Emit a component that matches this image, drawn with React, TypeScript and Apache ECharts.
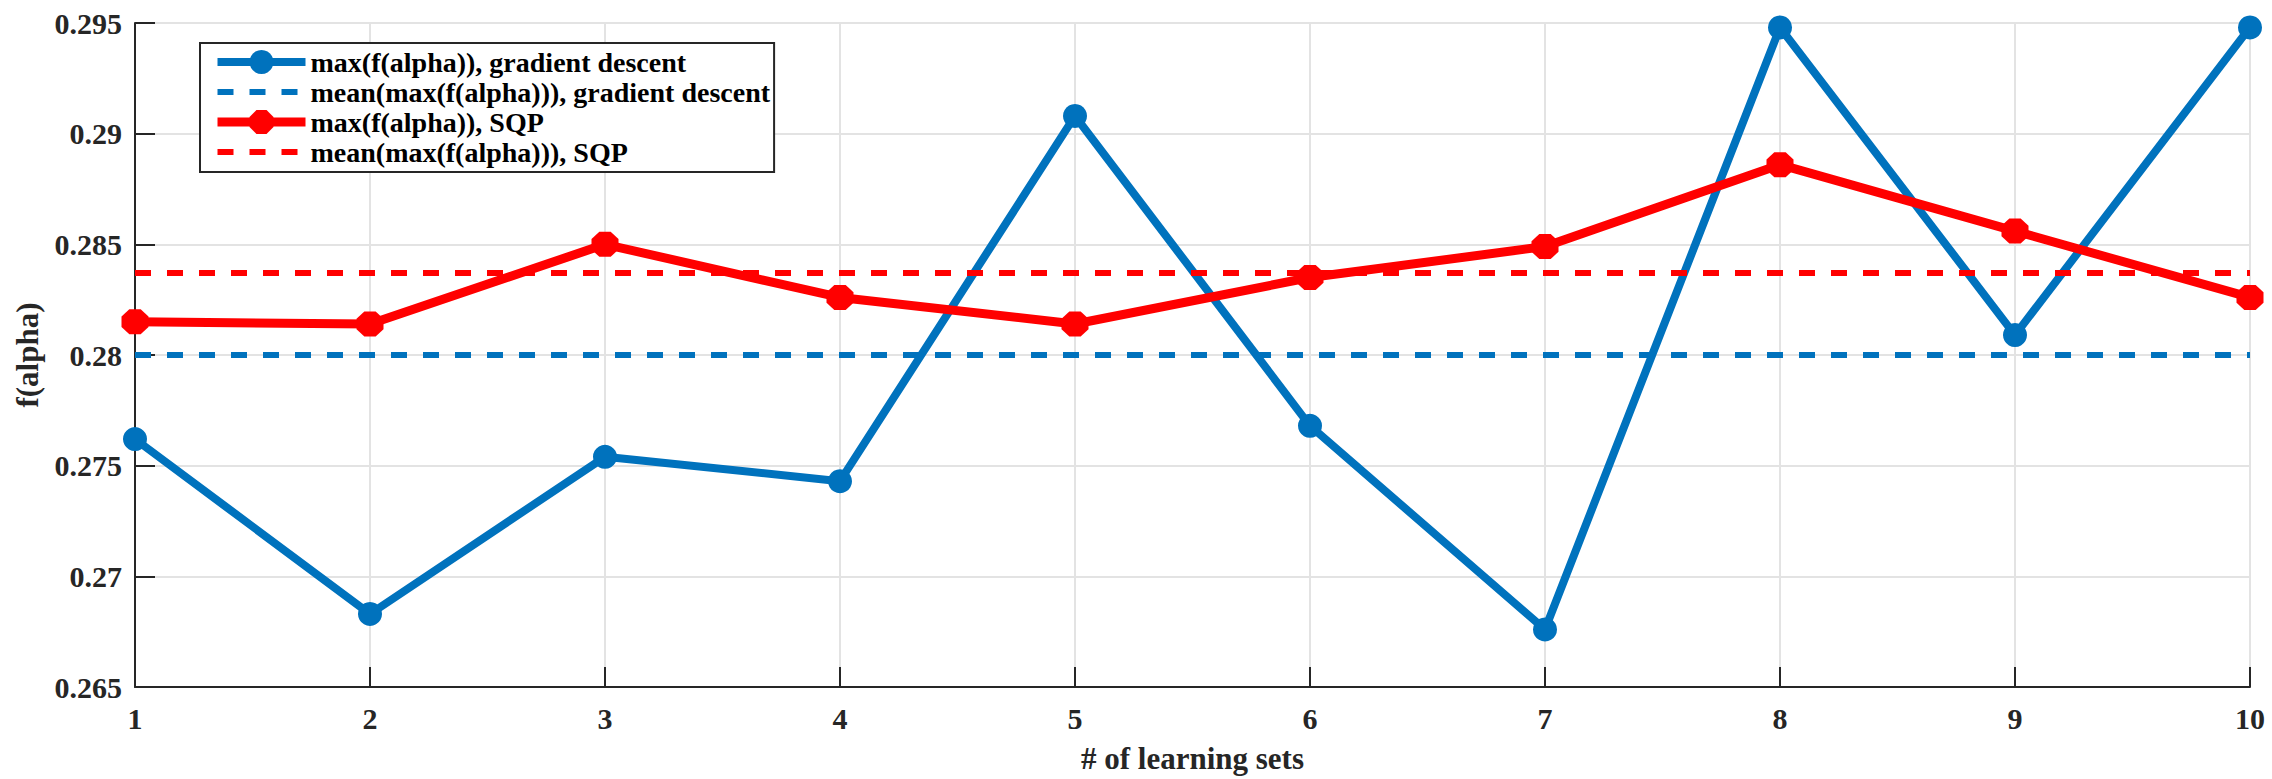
import React, { useEffect, useRef } from "react";
import * as echarts from "echarts";

const learningSets = [1, 2, 3, 4, 5, 6, 7, 8, 9, 10];
const gradientDescent = [0.2762, 0.2683, 0.2754, 0.2743, 0.2908, 0.2768, 0.2676, 0.2948, 0.2809, 0.2948];
const sqp = [0.2815, 0.2814, 0.2850, 0.2826, 0.2814, 0.2835, 0.2849, 0.2886, 0.2856, 0.2826];
const meanGradientDescent = 0.2800;
const meanSqp = 0.2837;
const seriesNames = [
  "max(f(alpha)), gradient descent",
  "mean(max(f(alpha))), gradient descent",
  "max(f(alpha)), SQP",
  "mean(max(f(alpha))), SQP",
];
const xTitle = "# of learning sets";
const yTitle = "f(alpha)";

const BLUE = "#0072BD";
const RED = "#FF0000";
const AXIS = "#262626";
const FONT = "Liberation Serif";
const OCTAGON = "path://M-0.42,-1 L0.42,-1 L1,-0.42 L1,0.42 L0.42,1 L-0.42,1 L-1,0.42 L-1,-0.42 Z";
const NONE_COLOR = "rgba(0,0,0,0)";

export default function App() {
  const ref = useRef<HTMLDivElement>(null);
  useEffect(() => {
    if (!ref.current) return;
    const chart = echarts.init(ref.current, undefined, { renderer: "svg" });
    const first = learningSets[0];
    const last = learningSets[learningSets.length - 1];
    chart.setOption({
      animation: false,
      backgroundColor: "#ffffff",
      grid: { left: 135, right: 22, top: 23, bottom: 86, containLabel: false },
      legend: {
        orient: "vertical",
        left: 200,
        top: 43,
        itemWidth: 88,
        itemHeight: 30,
        itemGap: 2,
        padding: [5, 4, 6, 13],
        borderColor: AXIS,
        borderWidth: 2,
        backgroundColor: "#ffffff",
        lineStyle: { width: "inherit" },
        textStyle: { fontFamily: FONT, fontWeight: "bold", fontSize: 28, color: "#000" },
        data: seriesNames,
      },
      xAxis: {
        type: "value",
        min: 1,
        max: 10,
        interval: 1,
        name: xTitle,
        nameLocation: "middle",
        nameGap: 56,
        nameTextStyle: { fontFamily: FONT, fontWeight: "bold", fontSize: 31, color: AXIS },
        axisLine: { show: true, lineStyle: { color: AXIS, width: 2 } },
        axisTick: { show: true, inside: true, length: 20, lineStyle: { color: AXIS, width: 2 } },
        axisLabel: { fontFamily: FONT, fontWeight: "bold", fontSize: 30, color: AXIS, margin: 16 },
        splitLine: { show: true, lineStyle: { color: "#E3E3E3", width: 2 } },
      },
      yAxis: {
        type: "value",
        min: 0.265,
        max: 0.295,
        interval: 0.005,
        name: yTitle,
        nameLocation: "middle",
        nameGap: 92,
        nameTextStyle: { fontFamily: FONT, fontWeight: "bold", fontSize: 31, color: AXIS },
        axisLine: { show: true, lineStyle: { color: AXIS, width: 2 } },
        axisTick: { show: true, inside: true, length: 20, lineStyle: { color: AXIS, width: 2 } },
        axisLabel: { fontFamily: FONT, fontWeight: "bold", fontSize: 30, color: AXIS, margin: 13 },
        splitLine: { show: true, lineStyle: { color: "#E3E3E3", width: 2 } },
      },
      series: [
        {
          name: seriesNames[0],
          type: "line",
          data: learningSets.map((x, i) => [x, gradientDescent[i]]),
          symbol: "circle",
          symbolSize: 24,
          lineStyle: { color: BLUE, width: 8 },
          itemStyle: { color: BLUE },
          z: 2,
        },
        {
          name: seriesNames[1],
          type: "line",
          data: [[first, meanGradientDescent], [last, meanGradientDescent]],
          symbol: "none",
          lineStyle: { color: BLUE, width: 6, type: [16, 16] },
          itemStyle: { color: NONE_COLOR },
          z: 3,
        },
        {
          name: seriesNames[2],
          type: "line",
          data: learningSets.map((x, i) => [x, sqp[i]]),
          symbol: OCTAGON,
          symbolSize: [27, 25],
          lineStyle: { color: RED, width: 9 },
          itemStyle: { color: RED },
          z: 4,
        },
        {
          name: seriesNames[3],
          type: "line",
          data: [[first, meanSqp], [last, meanSqp]],
          symbol: "none",
          lineStyle: { color: RED, width: 6, type: [16, 16] },
          itemStyle: { color: NONE_COLOR },
          z: 5,
        },
      ],
    });
    return () => chart.dispose();
  }, []);
  return (
    <div
      ref={ref}
      style={{ position: "fixed", left: 0, top: 0, width: 2272, height: 779, background: "#fff" }}
    />
  );
}
